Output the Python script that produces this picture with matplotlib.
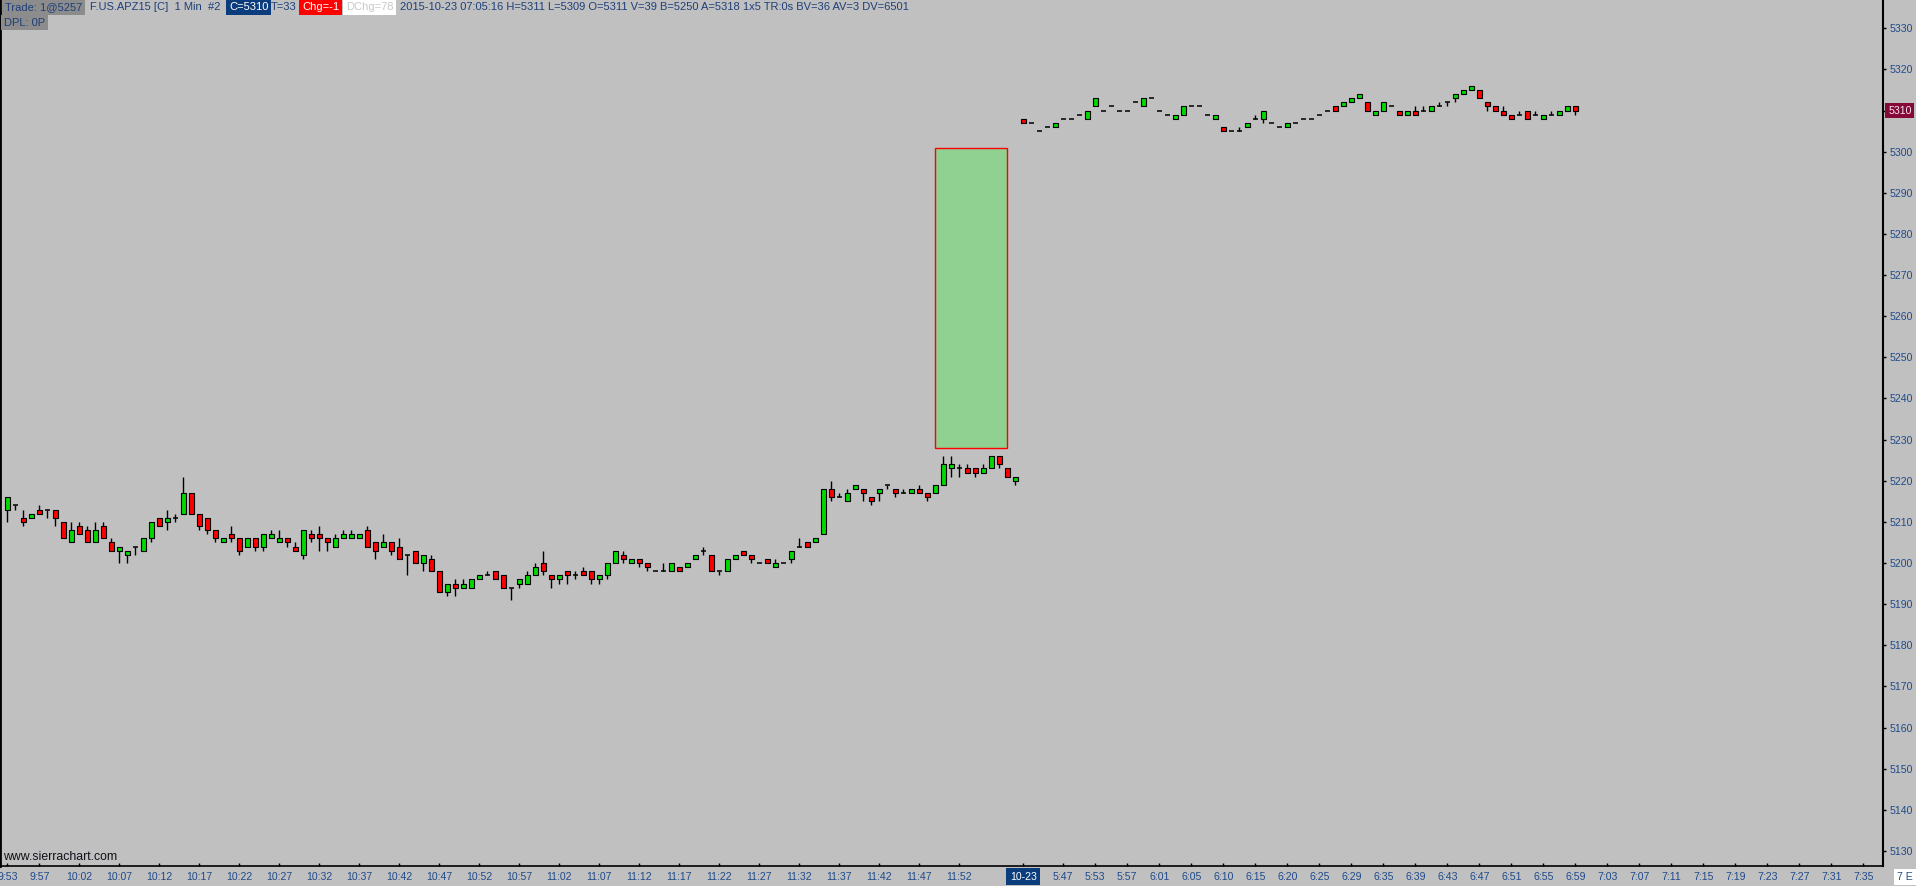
import numpy as np
import matplotlib
matplotlib.use("Agg")
import matplotlib.pyplot as plt
import matplotlib.transforms as mtransforms
from matplotlib.patches import Rectangle

plt.rcParams["font.family"] = ["Liberation Sans", "DejaVu Sans"]

# 1 min bars: session 1 (9:53 - 11:59), then session 10-23 (5:4x - 6:59)
opens = [
    5213, 5214, 5211, 5211, 5213, 5213, 5213, 5210, 5205, 5209,
    5208, 5205, 5209, 5205, 5203, 5202, 5204, 5203, 5206, 5211,
    5210, 5211, 5212, 5217, 5212, 5211, 5208, 5205, 5207, 5206,
    5204, 5206, 5204, 5206, 5205, 5206, 5204, 5202, 5207, 5207,
    5206, 5204, 5206, 5206, 5206, 5208, 5205, 5204, 5205, 5204,
    5202, 5203, 5200, 5201, 5198, 5193, 5195, 5194, 5194, 5196,
    5197, 5198, 5197, 5194, 5195, 5195, 5197, 5200, 5197, 5196,
    5198, 5197, 5198, 5198, 5196, 5197, 5200, 5202, 5200, 5201,
    5200, 5198, 5198, 5198, 5199, 5199, 5201, 5203, 5202, 5198,
    5198, 5201, 5203, 5202, 5200, 5201, 5199, 5200, 5201, 5204,
    5205, 5205, 5207, 5218, 5216, 5215, 5218, 5218, 5216, 5217,
    5219, 5218, 5217, 5217, 5218, 5217, 5217, 5219, 5223, 5223,
    5223, 5223, 5222, 5223, 5226, 5223, 5220,
    5308, 5307, 5305, 5306, 5306, 5308, 5308, 5309, 5308, 5311,
    5310, 5311, 5310, 5310, 5312, 5311, 5313, 5310, 5309, 5308,
    5309, 5311, 5311, 5309, 5308, 5306, 5305, 5305, 5306, 5308,
    5308, 5307, 5306, 5306, 5307, 5308, 5308, 5309, 5310, 5311,
    5311, 5312, 5313, 5312, 5309, 5310, 5311, 5310, 5309, 5310,
    5310, 5310, 5311, 5312, 5313, 5314, 5315, 5315, 5312, 5311,
    5310, 5309, 5309, 5310, 5309, 5308, 5309, 5309, 5310, 5311,
]
highs = [
    5216, 5214, 5213, 5212, 5214, 5213, 5213, 5210, 5210, 5210,
    5209, 5210, 5210, 5206, 5204, 5203, 5204, 5206, 5210, 5211,
    5213, 5212, 5221, 5217, 5212, 5211, 5208, 5206, 5209, 5206,
    5206, 5206, 5207, 5208, 5208, 5206, 5205, 5208, 5208, 5209,
    5206, 5207, 5208, 5208, 5207, 5209, 5205, 5207, 5205, 5206,
    5202, 5203, 5202, 5202, 5198, 5195, 5196, 5196, 5196, 5197,
    5198, 5198, 5197, 5194, 5196, 5198, 5200, 5203, 5197, 5197,
    5198, 5198, 5199, 5198, 5197, 5200, 5203, 5203, 5201, 5201,
    5200, 5198, 5200, 5200, 5199, 5200, 5202, 5204, 5202, 5198,
    5201, 5202, 5203, 5202, 5200, 5201, 5201, 5200, 5203, 5206,
    5205, 5206, 5218, 5220, 5217, 5218, 5219, 5218, 5216, 5218,
    5219, 5218, 5218, 5218, 5219, 5217, 5219, 5226, 5226, 5224,
    5224, 5223, 5224, 5226, 5226, 5223, 5221,
    5308, 5307, 5305, 5306, 5307, 5308, 5308, 5309, 5310, 5313,
    5310, 5311, 5310, 5310, 5312, 5313, 5313, 5310, 5309, 5309,
    5311, 5311, 5311, 5309, 5309, 5306, 5305, 5306, 5307, 5309,
    5310, 5307, 5306, 5307, 5307, 5308, 5308, 5309, 5310, 5311,
    5312, 5313, 5314, 5312, 5310, 5312, 5311, 5310, 5310, 5311,
    5311, 5311, 5312, 5312, 5314, 5315, 5316, 5315, 5312, 5311,
    5311, 5309, 5310, 5310, 5310, 5309, 5310, 5310, 5311, 5311,
]
lows = [
    5210, 5213, 5209, 5211, 5212, 5211, 5209, 5206, 5205, 5207,
    5205, 5205, 5206, 5203, 5200, 5200, 5202, 5203, 5205, 5209,
    5208, 5210, 5212, 5212, 5208, 5207, 5205, 5205, 5205, 5202,
    5204, 5203, 5203, 5206, 5205, 5204, 5203, 5201, 5205, 5203,
    5203, 5204, 5206, 5206, 5206, 5204, 5201, 5204, 5202, 5201,
    5197, 5200, 5198, 5198, 5193, 5192, 5192, 5194, 5194, 5196,
    5197, 5196, 5194, 5191, 5194, 5195, 5197, 5197, 5194, 5195,
    5195, 5196, 5197, 5195, 5195, 5196, 5200, 5200, 5200, 5199,
    5198, 5198, 5198, 5198, 5198, 5199, 5201, 5202, 5198, 5197,
    5198, 5201, 5202, 5200, 5200, 5200, 5199, 5200, 5200, 5204,
    5204, 5205, 5207, 5215, 5216, 5215, 5218, 5215, 5214, 5215,
    5218, 5216, 5217, 5217, 5217, 5215, 5217, 5219, 5221, 5221,
    5222, 5221, 5222, 5223, 5223, 5221, 5219,
    5307, 5307, 5305, 5306, 5306, 5308, 5308, 5309, 5308, 5311,
    5310, 5311, 5310, 5310, 5312, 5311, 5313, 5310, 5309, 5308,
    5309, 5311, 5311, 5309, 5308, 5305, 5305, 5305, 5306, 5308,
    5307, 5307, 5306, 5306, 5307, 5308, 5308, 5309, 5310, 5310,
    5311, 5312, 5313, 5310, 5309, 5310, 5311, 5309, 5309, 5309,
    5310, 5310, 5311, 5311, 5312, 5314, 5315, 5313, 5310, 5310,
    5309, 5308, 5309, 5308, 5309, 5308, 5309, 5309, 5310, 5309,
]
closes = [
    5216, 5214, 5210, 5212, 5212, 5213, 5211, 5206, 5208, 5207,
    5205, 5208, 5206, 5203, 5204, 5203, 5204, 5206, 5210, 5209,
    5211, 5211, 5217, 5212, 5209, 5208, 5206, 5206, 5206, 5203,
    5206, 5204, 5207, 5207, 5206, 5205, 5203, 5208, 5206, 5206,
    5205, 5206, 5207, 5207, 5207, 5204, 5203, 5205, 5203, 5201,
    5202, 5200, 5202, 5198, 5193, 5195, 5194, 5195, 5196, 5197,
    5197, 5196, 5194, 5194, 5196, 5197, 5199, 5198, 5196, 5197,
    5197, 5197, 5197, 5196, 5197, 5200, 5203, 5201, 5201, 5200,
    5199, 5198, 5198, 5200, 5198, 5200, 5202, 5203, 5198, 5198,
    5201, 5202, 5202, 5201, 5200, 5200, 5200, 5200, 5203, 5204,
    5204, 5206, 5218, 5216, 5216, 5217, 5219, 5217, 5215, 5218,
    5219, 5217, 5217, 5218, 5217, 5216, 5219, 5224, 5224, 5223,
    5222, 5222, 5223, 5226, 5224, 5221, 5221,
    5307, 5307, 5305, 5306, 5307, 5308, 5308, 5309, 5310, 5313,
    5310, 5311, 5310, 5310, 5312, 5313, 5313, 5310, 5309, 5309,
    5311, 5311, 5311, 5309, 5309, 5305, 5305, 5305, 5307, 5308,
    5310, 5307, 5306, 5307, 5307, 5308, 5308, 5309, 5310, 5310,
    5312, 5313, 5314, 5310, 5310, 5312, 5311, 5309, 5310, 5309,
    5310, 5311, 5311, 5312, 5314, 5315, 5316, 5313, 5311, 5310,
    5309, 5308, 5309, 5308, 5309, 5309, 5309, 5310, 5311, 5310,
]

xtick_bars = [0] + list(range(4, 120, 5)) + [127] + list(range(132, 233, 4))
xtick_labels = [
    "9:53", "9:57", "10:02", "10:07", "10:12", "10:17", "10:22", "10:27", "10:32",
    "10:37", "10:42", "10:47", "10:52", "10:57", "11:02", "11:07", "11:12", "11:17",
    "11:22", "11:27", "11:32", "11:37", "11:42", "11:47", "11:52",
    "10-23",
    "5:47", "5:53", "5:57", "6:01", "6:05", "6:10", "6:15", "6:20", "6:25", "6:29",
    "6:35", "6:39", "6:43", "6:47", "6:51", "6:55", "6:59", "7:03", "7:07", "7:11",
    "7:15", "7:19", "7:23", "7:27", "7:31", "7:35",
]
price_ticks = list(range(5130, 5331, 10))

# drawn rectangle (bar range, price range)
rect_bars = (116, 125)
rect_prices = (5228, 5301)

header = [
    ("Trade: 1@5257", "#1e3f7a", "#8c8c8c"),
    ("F.US.APZ15 [C]  1 Min  #2", "#1e3f7a", None),
    ("C=5310", "white", "#0b3c7c"),
    ("T=33", "#1e3f7a", None),
    ("Chg=-1", "white", "#ff0000"),
    ("DChg=78", "#c8c8c8", "white"),
    ("2015-10-23 07:05:16 H=5311 L=5309 O=5311 V=39 B=5250 A=5318 1x5 TR:0s BV=36 AV=3 DV=6501",
     "#1e3f7a", None),
]
header_x = [5, 90, 229, 271, 302, 346, 400]

BG = "#c0c0c0"
UP = "#00d800"
DN = "#ff0000"
TXT = "#1f4a8a"
LBL = 7.6

W, H = 1916, 886
fig = plt.figure(figsize=(W / 100, H / 100), dpi=100, facecolor=BG)
ax = fig.add_axes([0, (H - 866) / H, 1883 / W, 866 / H])
ax.set_facecolor(BG)

o = np.array(opens)
h = np.array(highs)
l = np.array(lows)
c = np.array(closes)
x = np.arange(len(o))
up = c > o
dn = c < o
flat = c == o

bw = 0.68
ax.vlines(x, l, h, color="black", lw=1.0, zorder=2)
ax.bar(x[up], (c - o)[up], bottom=o[up], width=bw, color=UP,
       edgecolor="black", linewidth=0.8, zorder=3)
ax.bar(x[dn], (o - c)[dn], bottom=c[dn], width=bw, color=DN,
       edgecolor="black", linewidth=0.8, zorder=3)
ax.hlines(c[flat], x[flat] - bw / 2, x[flat] + bw / 2, color="black",
          lw=1.1, zorder=3)

r0, r1 = rect_bars
p0, p1 = rect_prices
ax.add_patch(Rectangle((r0, p0), r1 - r0, p1 - p0, facecolor="#90d090",
                       edgecolor="red", linewidth=1.0, zorder=1))

ax.set_xlim(-7.3 / 8, (1883 - 7.3) / 8)
ax.set_ylim(5330 - (866 - 28.3) / 4.113, 5330 + 28.3 / 4.113)

ax.yaxis.tick_right()
ax.set_yticks(price_ticks)
ax.set_yticklabels(["" if p == c[-1] else str(p) for p in price_ticks])
ax.tick_params(axis="y", direction="out", length=2.5, width=1, color="black",
               labelcolor=TXT, labelsize=LBL, pad=2.5)
ax.set_xticks(xtick_bars)
ax.set_xticklabels(xtick_labels)
ax.tick_params(axis="x", direction="in", length=2.5, width=1, color="black",
               labelcolor=TXT, labelsize=LBL, pad=4)
for lab in ax.get_xticklabels():
    if lab.get_text() == "10-23":
        lab.set_color("white")
        lab.set_bbox(dict(facecolor="#0b3c7c", edgecolor="none", pad=2.5))

ax.spines["top"].set_visible(False)
ax.spines["left"].set_linewidth(2)
ax.spines["bottom"].set_linewidth(1.2)
ax.spines["right"].set_linewidth(1.5)

# last price marker on the price scale
tr = mtransforms.blended_transform_factory(ax.transAxes, ax.transData)
ax.text(1.0027, c[-1], str(c[-1]), transform=tr, ha="left", va="center",
        fontsize=LBL, color="#f4e6ee", zorder=10, clip_on=False,
        bbox=dict(facecolor="#850838", edgecolor="none", pad=2))

ax.text(0.0015, 0.003, "www.sierrachart.com", transform=ax.transAxes,
        fontsize=8.8, color="#101018", ha="left", va="bottom")

fig.text(1897 / W, 1 - 877 / H, "7 E", fontsize=LBL, color=TXT,
         ha="left", va="center",
         bbox=dict(facecolor="white", edgecolor="none", pad=2.5))

for (txt, fg, bg), px in zip(header, header_x):
    box = None
    if bg is not None:
        box = dict(facecolor=bg, edgecolor="none", pad=2)
    fig.text(px / W, 1 - 7.5 / H, txt, fontsize=8, color=fg, ha="left",
             va="center", bbox=box)
fig.text(4 / W, 1 - 22.5 / H, "DPL: 0P", fontsize=8, color="#1e3f7a", ha="left",
         va="center", bbox=dict(facecolor="#8c8c8c", edgecolor="none", pad=2))

fig.savefig("out.png", dpi=100, facecolor=BG)
